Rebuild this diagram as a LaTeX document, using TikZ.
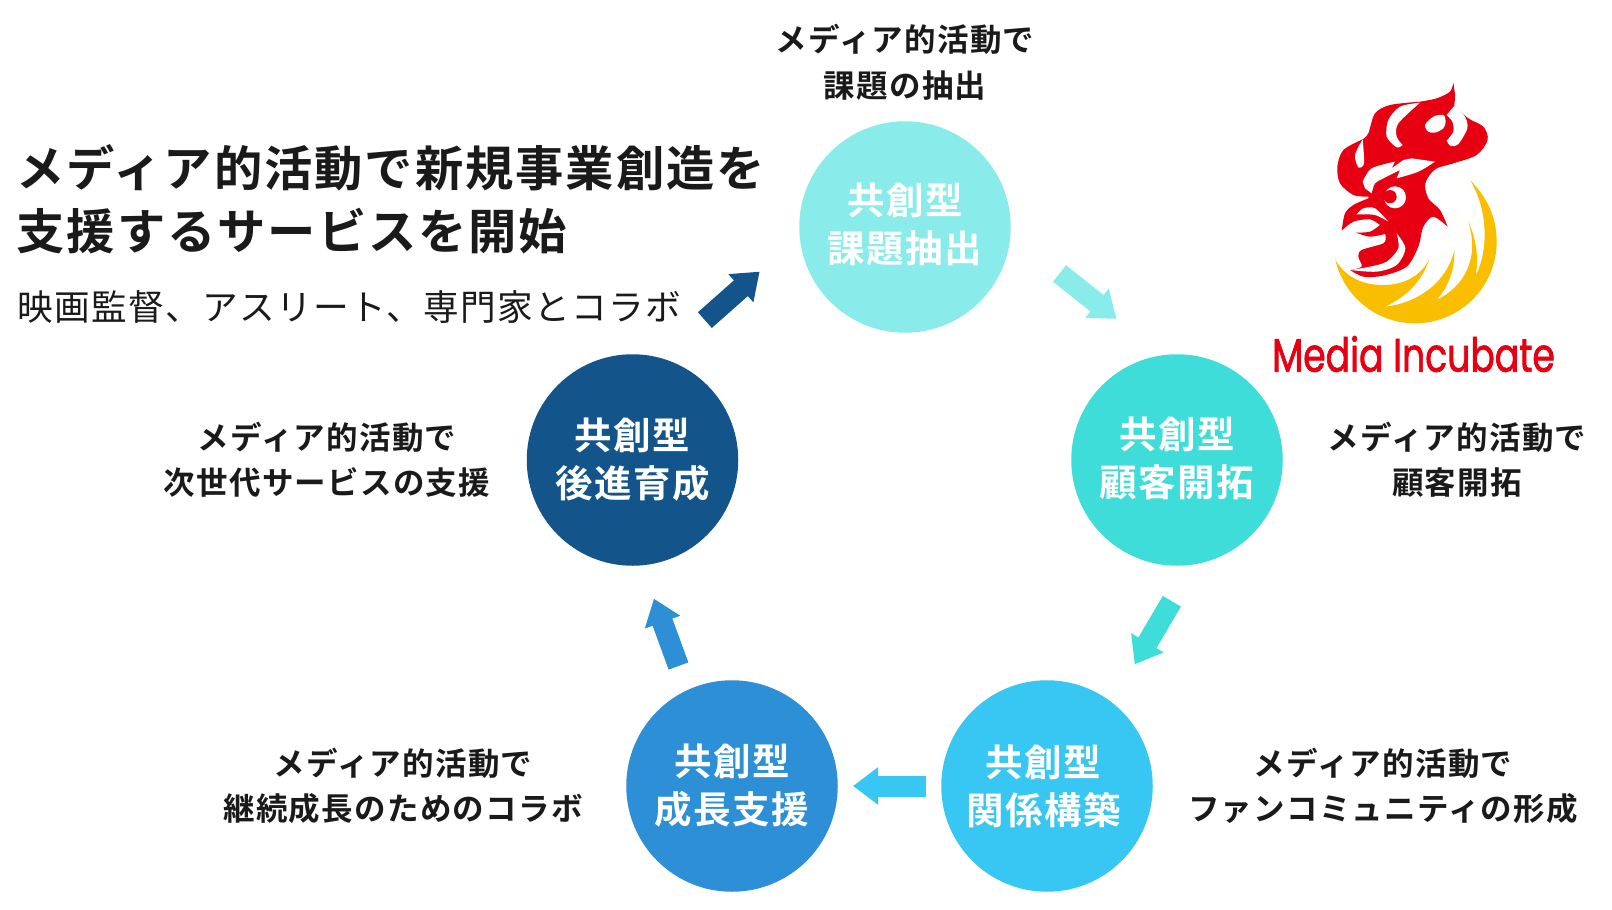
\documentclass[tikz,border=0pt]{standalone}
\usepackage{fontspec}
\usepackage{xcolor}
\usetikzlibrary{arrows.meta,positioning}
\newfontfamily\jpfont[LetterSpace=4,BoldFont={Noto Sans CJK JP Bold}]{Noto Sans CJK JP}
\newfontfamily\logofont[FakeStretch=0.77,FakeBold=1.5]{Poppins}

\definecolor{inkblack}{HTML}{1A1A1A}
\definecolor{stepa}{HTML}{8AEBEB}
\definecolor{stepb}{HTML}{3FDDD9}
\definecolor{stepc}{HTML}{38C7F2}
\definecolor{stepd}{HTML}{2D8FD5}
\definecolor{stepe}{HTML}{13548A}
\definecolor{logored}{HTML}{E60012}
\definecolor{logoyellow}{HTML}{F9BE00}

\tikzset{
  stepcircle/.style={circle, minimum size=211.5pt, inner sep=0pt, outer sep=0pt, text=white, align=center,
    font=\jpfont\bfseries\fontsize{37.5}{48}\selectfont},
  sidetext/.style={text=inkblack, align=center, inner sep=0pt, font=\jpfont\bfseries\fontsize{31.5}{45.5}\selectfont},
  titletext/.style={anchor=west, inner sep=0pt, text=inkblack, font=\jpfont\bfseries\fontsize{48.3}{48.3}\selectfont},
  flowarrow/.style={line width=21pt, -{Triangle[length=25pt,width=36pt]}},
}

\begin{document}
\begin{tikzpicture}[x=1pt,y=-1pt]
\useasboundingbox (0,0) rectangle (1612,910);

% Title block
\node[titletext] (title) at (16.5,168) {メディア的活動で新規事業創造を};
\node[titletext] (titleb) at (16.5,231) {支援するサービスを開始};
\node[anchor=west, inner sep=0pt, text=inkblack, font=\jpfont\fontsize{35.6}{35.6}\selectfont] (subtitle) at (17,307) {映画監督、アスリート、専門家とコラボ};

% Cycle circles
\node[stepcircle, fill=stepa, text depth=8.5pt] (kadai) at (905,227) {共創型\\課題抽出};
\node[stepcircle, fill=stepb, text depth=7.5pt] (kokyaku) at (1177,460) {共創型\\顧客開拓};
\node[stepcircle, fill=stepc] (kankei) at (1047,786) {共創型\kern7pt\\関係構築\kern7pt};
\node[stepcircle, fill=stepd] (seicho) at (732,786) {共創型\\成長支援};
\node[stepcircle, fill=stepe] (kohai) at (632.5,460) {共創型\\後進育成};

% Side texts
\node[sidetext] (kadaitext) at (905,62.5) {メディア的活動で\\課題の抽出};
\node[sidetext] (kokyakutext) at (1457,460) {メディア的活動で\\顧客開拓};
\node[sidetext] (kankeitext) at (1383,786) {メディア的活動で\\ファンコミュニティの形成};
\node[sidetext] (seichotext) at (403,786) {メディア的活動で\\継続成長のためのコラボ};
\node[sidetext] (kohaitext) at (327,460) {メディア的活動で\\次世代サービスの支援};

% Block arrows
\draw[flowarrow, stepa, shorten <=62.7pt, shorten >=58.5pt] (kadai.-4.1) -- (kokyaku.98.4);
\draw[flowarrow, stepb, shorten <=42.7pt, shorten >=44.5pt] (kokyaku.-81.4) -- (kankei.52);
\draw[flowarrow, stepc, shorten <=15pt, shorten >=15.3pt] (kankei.west) -- (seicho.east);
\draw[flowarrow, stepd, shorten <=25.7pt, shorten >=35.5pt] (seicho.115.5) -- (kohai.-85.7);
\draw[flowarrow, stepe, shorten <=57.7pt, shorten >=53.5pt] (kohai.74.1) -- (kadai.185.4);

% Logo
\begin{scope}[shift={(1220,70)}, x=0.33333pt, y=-0.33333pt]
  % yellow crescent
  \fill[logoyellow] (750,330) .. controls (800,380) and (830,440) .. (830,515)
    arc[start angle=0, end angle=167, radius=245]
    .. controls (380,625) and (430,645) .. (490,645) .. controls (550,645) and (600,620) .. (628,568)
    .. controls (605,635) and (560,680) .. (495,710) .. controls (590,700) and (680,640) .. (703,540)
    .. controls (705,600) and (685,650) .. (650,690) .. controls (730,650) and (780,570) .. (745,455)
    .. controls (770,510) and (775,560) .. (768,615) .. controls (805,540) and (805,420) .. (750,330) -- cycle;
  % red head
  \fill[logored] plot[smooth] coordinates {(700,38) (705,75) (703,105)}
    -- plot[smooth] coordinates {(703,105) (745,145) (790,170) (803,210) (770,255) (700,280) (645,298) (616,340) (625,385) (660,420) (683,470)}
    -- plot[smooth] coordinates {(683,470) (640,440) (610,470) (595,530) (560,590) (490,617) (430,620) (390,600)}
    -- plot[smooth] coordinates {(390,600) (425,590) (415,560) (425,540) (490,520) (497,500) (495,492)}
    -- plot[smooth] coordinates {(495,492) (450,500) (407,488)}
    -- plot[smooth] coordinates {(407,488) (450,485) (480,465)}
    -- plot[smooth] coordinates {(480,465) (450,448) (400,455) (365,482)}
    -- plot[smooth] coordinates {(365,482) (375,430) (400,405) (445,385)}
    -- plot[smooth] coordinates {(445,380) (400,375) (360,340) (352,290) (370,240) (428,208)}
    -- plot[smooth] coordinates {(428,208) (445,190) (465,130) (510,105) (600,95)}
    -- plot[smooth] coordinates {(600,95) (650,85) (690,65) (700,38)} -- cycle;
  % white cut-outs of the head
  \fill[white] plot[smooth] coordinates {(600,98) (540,110) (505,150) (500,200) (530,232) (548,225)}
    -- plot[smooth] coordinates {(548,225) (530,200) (535,160) (600,98)} -- cycle;
  \fill[white] plot[smooth cycle] coordinates {(615,165) (640,140) (670,135) (677,155) (670,175) (645,188) (625,185)};
  \fill[white] plot[smooth] coordinates {(705,105) (735,140) (742,175) (715,222) (692,228) (680,212)}
    -- plot[smooth] coordinates {(680,212) (700,185) (697,155) (680,135)} -- (705,105) -- cycle;
  \fill[white] plot[smooth] coordinates {(428,208) (405,255) (415,292) (432,280) (428,208)} -- cycle;
  \fill[white] (428,335) -- plot[smooth] coordinates {(428,335) (455,295) (525,275)} -- (515,295)
    -- (550,270) -- (575,265) -- (645,275) -- plot[smooth] coordinates {(645,275) (595,305) (530,325)}
    -- (540,300) -- plot[smooth] coordinates {(540,300) (490,325) (465,340) (455,370)} -- (435,355) -- cycle;
  \fill[white] (525,382) circle[radius=33];
  \fill[logored] (510,380) circle[radius=20];
  \fill[white] plot[smooth] coordinates {(410,433) (430,415) (465,415) (505,455)}
    -- plot[smooth] coordinates {(505,455) (465,435) (410,433)} -- cycle;
  \fill[white] plot[smooth] coordinates {(530,490) (556,535) (530,585) (470,605) (390,600)}
    -- plot[smooth] coordinates {(390,600) (450,590) (500,575) (535,535) (530,490)} -- cycle;
\end{scope}
\node[inner sep=0pt, text=logored, font=\logofont\fontsize{47}{47}\selectfont] (logotext) at (1413.5,354) {Media Incubate};

\end{tikzpicture}
\end{document}
